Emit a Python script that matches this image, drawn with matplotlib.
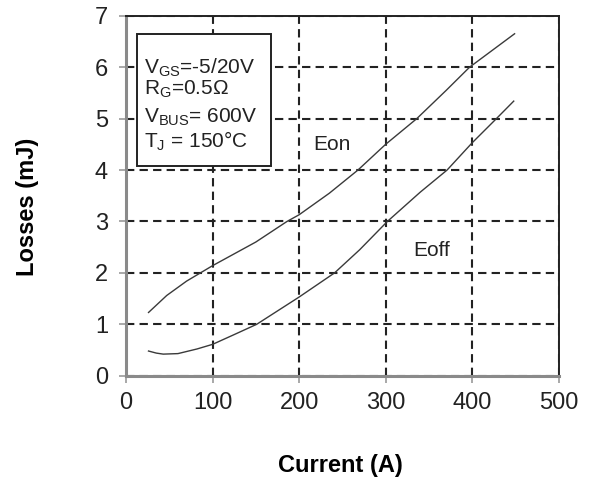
import matplotlib
matplotlib.use("Agg")
import matplotlib.pyplot as plt

# values
eon_x = [26, 47, 70, 86, 100, 150, 186, 200, 235, 268, 300, 336, 370, 397, 449]
eon_y = [1.23, 1.56, 1.84, 2.0, 2.14, 2.6, 3.0, 3.13, 3.55, 4.0, 4.5, 5.0, 5.55, 6.0, 6.65]
eoff_x = [26, 35, 43, 60, 82, 100, 125, 151, 200, 241, 270, 302, 340, 371, 400, 428, 448]
eoff_y = [0.48, 0.44, 0.42, 0.43, 0.52, 0.61, 0.8, 1.0, 1.53, 2.0, 2.45, 3.0, 3.57, 4.0, 4.53, 5.0, 5.34]
x_ticks = [0, 100, 200, 300, 400, 500]
y_ticks = [0, 1, 2, 3, 4, 5, 6, 7]
cond_lines = [r"V$_{\mathrm{GS}}$=-5/20V", r"R$_{\mathrm{G}}$=0.5Ω",
              r"V$_{\mathrm{BUS}}$= 600V", r"T$_{\mathrm{J}}$ = 150°C"]

plt.rcParams["font.family"] = ["Liberation Sans", "DejaVu Sans"]
plt.rcParams["mathtext.fontset"] = "custom"
plt.rcParams["mathtext.rm"] = "Liberation Sans"
plt.rcParams["mathtext.it"] = "Liberation Sans:italic"
plt.rcParams["mathtext.bf"] = "Liberation Sans:bold"

fig = plt.figure(figsize=(5.9, 4.82), dpi=100)
ax = fig.add_axes([0.2136, 0.2205, 0.7334, 0.7468])

ax.plot(eon_x, eon_y, color="#3a3a3a", lw=1.0)
ax.plot(eoff_x, eoff_y, color="#3a3a3a", lw=1.0)

ax.set_xlim(0, 500); ax.set_ylim(0, 7)
ax.set_xticks(x_ticks); ax.set_yticks(y_ticks)
ax.grid(True, color="#222222", lw=1.5, ls=(0, (4, 2.5)))
ax.set_axisbelow(True)
ax.tick_params(axis="both", direction="out", length=5, width=1.2, color="#999999",
               labelsize=17, labelcolor="#222222")
ax.tick_params(axis="x", pad=7)
ax.tick_params(axis="y", pad=8)
for s in ("left", "bottom"):
    ax.spines[s].set_color("#8a8a8a"); ax.spines[s].set_linewidth(2.2)
for s in ("top", "right"):
    ax.spines[s].set_color("#222222"); ax.spines[s].set_linewidth(1.4)

ax.text(216, 4.5, "Eon", fontsize=15, color="#222222", va="center", ha="left")
ax.text(332, 2.43, "Eoff", fontsize=15, color="#222222", va="center", ha="left")

# conditions box
ax.add_patch(plt.Rectangle((0.025, 0.583), 0.31, 0.365, transform=ax.transAxes,
                           facecolor="white", edgecolor="#222222", lw=1.4, zorder=3))
for txt, yb in zip(cond_lines, [0.838, 0.780, 0.703, 0.633]):
    ax.text(0.042, yb, txt, transform=ax.transAxes, fontsize=15, color="#222222",
            va="baseline", ha="left", zorder=4)

fig.text(0.577, 0.035, "Current (A)", fontsize=17, fontweight="bold", ha="center", va="center")
fig.text(0.046, 0.57, "Losses (mJ)", fontsize=17, fontweight="bold", rotation=90,
         ha="center", va="center")

fig.savefig("out.png", dpi=100)
